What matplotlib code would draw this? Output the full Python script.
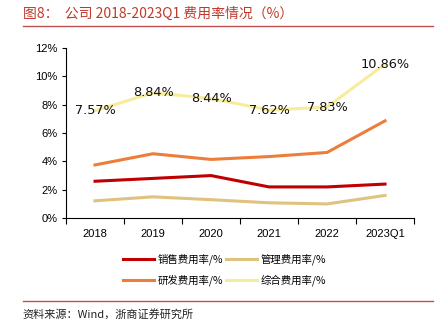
import numpy as np
import matplotlib.pyplot as plt
from matplotlib.lines import Line2D

plt.rcParams['font.family'] = ['Liberation Sans', 'Noto Sans CJK SC', 'DejaVu Sans']

# Data
years = ["2018", "2019", "2020", "2021", "2022", "2023Q1"]
sales = [2.60, 2.80, 3.00, 2.20, 2.20, 2.40]
admin = [1.22, 1.50, 1.30, 1.08, 1.00, 1.60]
rnd = [3.75, 4.54, 4.14, 4.34, 4.63, 6.86]
total = [7.57, 8.84, 8.44, 7.62, 7.83, 10.86]
series_names = ["销售费用率/%", "管理费用率/%", "研发费用率/%", "综合费用率/%"]

c_sales = "#c00000"
c_admin = "#dfc27d"
c_rnd = "#ed7d3b"
c_total = "#f8ec9a"
red = "#c0504d"

fig = plt.figure(figsize=(4.4, 3.33), dpi=100)
ax = fig.add_axes([0.15, 0.345, 0.791, 0.511])

x = np.arange(len(years))
l1, = ax.plot(x, sales, color=c_sales, lw=2.2)
l2, = ax.plot(x, admin, color=c_admin, lw=2.2)
l3, = ax.plot(x, rnd, color=c_rnd, lw=2.2)
l4, = ax.plot(x, total, color=c_total, lw=2.2)

for xi, v in zip(x, total):
    ax.text(xi, v, f"{v:.2f}%", ha="center", va="center", fontsize=9.3,
            family="DejaVu Sans", color="#111111")

ax.set_xlim(-0.5, len(years) - 0.5)
ax.set_ylim(0, 12)
ax.set_yticks(np.arange(0, 13, 2))
ax.set_yticklabels([f"{v}%" for v in range(0, 13, 2)], fontsize=8)
ax.set_xticks(np.arange(-0.5, len(years), 1))
ax.set_xticklabels([])
ax.set_xticks(x, minor=True)
ax.set_xticklabels(years, minor=True, fontsize=8)
ax.tick_params(axis="x", which="minor", length=0, pad=8)
ax.tick_params(axis="x", which="major", length=4, width=0.8, direction="out")
ax.tick_params(axis="y", length=3, width=0.8, pad=3)
for s in ["top", "right"]:
    ax.spines[s].set_visible(False)
for s in ["left", "bottom"]:
    ax.spines[s].set_linewidth(0.8)

# legend filled column-wise, so order it to read row by row
handles = [l1, l3, l2, l4]
names = [series_names[0], series_names[2], series_names[1], series_names[3]]
fig.legend(handles, names, loc="center", bbox_to_anchor=(0.51, 0.189), ncol=2,
           frameon=False, handlelength=3.0, handletextpad=0.3,
           columnspacing=0.3, labelspacing=0.9,
           prop={"family": "Noto Sans CJK SC", "size": 7.5})

# title and source
fig.text(0.052, 0.96, "图8：  公司 2018-2023Q1 费用率情况（%）", fontsize=10,
         color="#c0392b", va="center", ha="left", family="Noto Sans CJK SC")
fig.add_artist(Line2D([0.052, 0.984], [0.922, 0.922], color=red, lw=1.0,
                      transform=fig.transFigure))
fig.add_artist(Line2D([0.052, 0.984], [0.097, 0.097], color=red, lw=1.0,
                      transform=fig.transFigure))
fig.text(0.052, 0.055, "资料来源：Wind，浙商证券研究所", fontsize=8,
         color="#222222", va="center", ha="left", family="Noto Sans CJK SC")

fig.savefig("out.png", dpi=100)
